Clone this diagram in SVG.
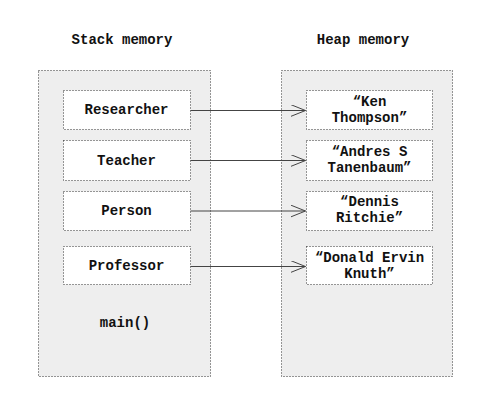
<svg xmlns="http://www.w3.org/2000/svg" width="490" height="406" viewBox="0 0 490 406">
<style>
.outer{fill:#eeeeee;stroke:#333;stroke-width:1;stroke-dasharray:1,2}
.inner{fill:#ffffff;stroke:#333;stroke-width:1;stroke-dasharray:1,2}
text{font-family:"Liberation Mono","Courier New",monospace;font-weight:bold;font-size:14px;fill:#111;text-anchor:middle}
.conn{stroke:#444;stroke-width:1;fill:none;marker-end:url(#arr)}
</style>
<defs>
<marker id="arr" markerWidth="18" markerHeight="14" refX="15" refY="6" orient="auto" markerUnits="userSpaceOnUse">
<path d="M0,0 L15,6 L0,12" fill="none" stroke="#444" stroke-width="1"/>
</marker>
</defs>
<rect width="490" height="406" fill="#ffffff"/>
<text x="122" y="44">Stack memory</text>
<text x="363" y="44">Heap memory</text>
<g id="stack">
<rect class="outer" x="38.5" y="70.5" width="172" height="306"/>
<text x="125" y="327">main()</text>
</g>
<g id="heap">
<rect class="outer" x="281.5" y="70.5" width="171" height="306"/>
</g>
<g id="researcher"><rect class="inner" x="63.5" y="90.5" width="127" height="39"/><text x="126.5" y="114">Researcher</text></g>
<g id="teacher"><rect class="inner" x="63.5" y="140.5" width="127" height="40"/><text x="126.5" y="164.5">Teacher</text></g>
<g id="person"><rect class="inner" x="63.5" y="191.5" width="127" height="39"/><text x="126.5" y="214.5">Person</text></g>
<g id="professor"><rect class="inner" x="63.5" y="246.5" width="127" height="38"/><text x="126.5" y="270">Professor</text></g>
<g id="ken"><rect class="inner" x="306.5" y="90.5" width="126" height="39"/><text x="369.5" y="106">“Ken</text><text x="369.5" y="122">Thompson”</text></g>
<g id="andres"><rect class="inner" x="306.5" y="140.5" width="126" height="40"/><text x="369.5" y="156">“Andres S</text><text x="369.5" y="172">Tanenbaum”</text></g>
<g id="dennis"><rect class="inner" x="306.5" y="191.5" width="126" height="39"/><text x="369.5" y="206">“Dennis</text><text x="369.5" y="222">Ritchie”</text></g>
<g id="donald"><rect class="inner" x="306.5" y="246.5" width="126" height="38"/><text x="369.5" y="262">“Donald Ervin</text><text x="369.5" y="277.5">Knuth”</text></g>
<g id="connectors">
<line class="conn" x1="190.5" y1="110.5" x2="305.5" y2="110.5"/>
<line class="conn" x1="190.5" y1="160.5" x2="305.5" y2="160.5"/>
<line class="conn" x1="190.5" y1="211" x2="305.5" y2="211"/>
<line class="conn" x1="190.5" y1="266.5" x2="305.5" y2="266.5"/>
</g>
</svg>
